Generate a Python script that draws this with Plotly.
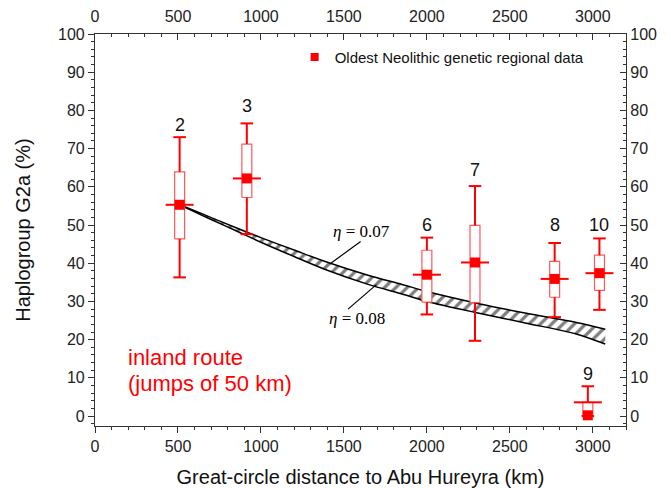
import plotly.graph_objects as go

# ---- data ----
site_labels = ["2", "3", "6", "7", "8", "9", "10"]
distance_km = [510, 915, 2000, 2290, 2770, 2970, 3040]
whisker_low = [36.3, 47.6, 26.6, 19.7, 25.9, 0.0, 27.8]
box_q1 = [46.4, 57.2, 29.8, 29.7, 31.1, 0.0, 32.9]
center_line = [55.3, 62.2, 37.0, 40.2, 35.9, 3.6, 37.4]
box_q3 = [63.9, 71.2, 43.4, 49.9, 40.5, 3.6, 42.1]
whisker_high = [73.0, 76.6, 46.7, 60.2, 45.3, 7.8, 46.5]
mean_value = [55.3, 62.2, 37.0, 40.2, 35.9, 0.2, 37.4]

band_km = [510, 600, 700, 850, 1000, 1200, 1400, 1650, 1850, 2000, 2300, 2600, 2900, 3075]
eta_007 = [55.3, 53.75, 51.95, 49.3, 46.7, 43.45, 40.25, 36.8, 34.45, 32.6, 29.55, 26.9, 24.5, 22.75]
eta_008 = [55.3, 53.45, 51.45, 48.5, 45.5, 41.75, 38.15, 34.4, 31.95, 30.0, 27.05, 24.3, 21.5, 18.85]

x_ticks = [0, 500, 1000, 1500, 2000, 2500, 3000]
y_ticks = [0, 10, 20, 30, 40, 50, 60, 70, 80, 90, 100]

# ---- styling / placement ----
RED = "#ff0000"
FONT = "Liberation Sans, Arial, sans-serif"
label_y = [76.1, 81.2, 50.0, 64.3, 50.0, 11.1, 50.0]
BOX_HALF_WIDTH = 30  # km
X_RANGE = [0, 3200]
Y_RANGE = [-2.6, 100]

fig = go.Figure()

# hatched band between eta = 0.07 and eta = 0.08
fig.add_trace(go.Scatter(x=band_km, y=eta_007, mode="lines",
                         line=dict(color="black", width=1.5, shape="spline", smoothing=0.8),
                         showlegend=False, hoverinfo="skip"))
fig.add_trace(go.Scatter(x=band_km, y=eta_008, mode="lines",
                         line=dict(color="black", width=1.5, shape="spline", smoothing=0.8),
                         fill="tonexty", fillcolor="white",
                         fillpattern=dict(shape="/", fgcolor="black", bgcolor="white",
                                          size=8, solidity=0.4),
                         showlegend=False, hoverinfo="skip"))

# boxes (white-filled rectangles, q1..q3)
for d, q1, q3 in zip(distance_km, box_q1, box_q3):
    xl, xr = d - BOX_HALF_WIDTH, d + BOX_HALF_WIDTH
    fig.add_trace(go.Scatter(x=[xl, xr, xr, xl, xl], y=[q1, q1, q3, q3, q1],
                             mode="lines", fill="toself", fillcolor="white",
                             line=dict(color="#ff5a5a", width=1.2),
                             showlegend=False, hoverinfo="skip"))

# whiskers
wx, wy = [], []
for d, lo, q1, q3, hi in zip(distance_km, whisker_low, box_q1, box_q3, whisker_high):
    wx += [d, d, None, d, d, None]
    wy += [q3, hi, None, lo, q1, None]
fig.add_trace(go.Scatter(x=wx, y=wy, mode="lines", line=dict(color=RED, width=2),
                         showlegend=False, hoverinfo="skip"))
fig.add_trace(go.Scatter(x=distance_km + distance_km, y=whisker_high + whisker_low,
                         mode="markers",
                         marker=dict(symbol="line-ew", size=9,
                                     line=dict(color=RED, width=2)),
                         showlegend=False, hoverinfo="skip"))
# wide centre line
fig.add_trace(go.Scatter(x=distance_km, y=center_line, mode="markers",
                         marker=dict(symbol="line-ew", size=20,
                                     line=dict(color=RED, width=2)),
                         showlegend=False, hoverinfo="skip"))
# mean markers
fig.add_trace(go.Scatter(x=distance_km, y=mean_value, mode="markers",
                         marker=dict(symbol="square", size=10, color=RED,
                                     line=dict(width=0)),
                         showlegend=False, hoverinfo="skip"))
# legend entry
fig.add_trace(go.Scatter(x=[None], y=[None], mode="markers",
                         marker=dict(symbol="square", size=8, color=RED),
                         name="Oldest Neolithic genetic regional data"))
# dummy trace for top/right axes
fig.add_trace(go.Scatter(x=[None], y=[None], xaxis="x2", yaxis="y2",
                         showlegend=False, hoverinfo="skip"))

annotations = []
for lab, d, ly in zip(site_labels, distance_km, label_y):
    annotations.append(dict(x=d, y=ly, text=lab, showarrow=False,
                            font=dict(family=FONT, size=18, color="#111"),
                            xanchor="center", yanchor="middle"))
annotations.append(dict(x=185, y=15.2, text="inland route", showarrow=False,
                        xanchor="left", yanchor="middle",
                        font=dict(family=FONT, size=22, color=RED)))
annotations.append(dict(x=185, y=8.6, text="(jumps of 50 km)", showarrow=False,
                        xanchor="left", yanchor="middle",
                        font=dict(family=FONT, size=22, color=RED)))
annotations.append(dict(x=1606, y=48.2, text="<i>η</i> = 0.07", showarrow=False,
                        xanchor="center", yanchor="middle",
                        font=dict(family="Liberation Serif, Times New Roman, serif",
                                  size=17, color="black")))
annotations.append(dict(x=1576, y=25.6, text="<i>η</i> = 0.08", showarrow=False,
                        xanchor="center", yanchor="middle",
                        font=dict(family="Liberation Serif, Times New Roman, serif",
                                  size=17, color="black")))

shapes = [
    dict(type="line", xref="x", yref="y", x0=1601, y0=45.7, x1=1415, y1=39.8,
         line=dict(color="black", width=1.2)),
    dict(type="line", xref="x", yref="y", x0=1525, y0=28.0, x1=1696, y1=34.4,
         line=dict(color="black", width=1.2)),
]

axis_common = dict(showgrid=False, zeroline=False, showline=True, automargin=False,
                   linecolor="#333", linewidth=1.2, tickcolor="#333", tickwidth=1.2,
                   layer="above traces",
                   tickfont=dict(family=FONT, size=16, color="#222"))

fig.update_layout(
    width=671, height=488,
    margin=dict(l=95, r=45, t=34, b=62, autoexpand=False),
    paper_bgcolor="white", plot_bgcolor="white",
    font=dict(family=FONT, color="#222"),
    showlegend=True,
    legend=dict(x=0.376, y=0.941, xanchor="left", yanchor="middle",
                bgcolor="rgba(0,0,0,0)", font=dict(family=FONT, size=15, color="#111")),
    xaxis=dict(range=X_RANGE, tickvals=x_ticks, ticks="outside", ticklen=6,
               ticklabelstandoff=0,
               minor=dict(dtick=100, ticks="outside", ticklen=3, tickcolor="#333"),
               title=dict(text="Great-circle distance to Abu Hureyra (km)",
                          font=dict(family=FONT, size=20, color="#111"), standoff=16),
               **axis_common),
    yaxis=dict(range=Y_RANGE, tickvals=y_ticks, ticks="outside", ticklen=6,
               minor=dict(dtick=2, tick0=0, ticks="outside", ticklen=3, tickcolor="#333"),
               title=dict(text="Haplogroup G2a (%)",
                          font=dict(family=FONT, size=20, color="#111"), standoff=21),
               **axis_common),
    xaxis2=dict(range=X_RANGE, tickvals=x_ticks, overlaying="x", side="top",
                anchor="y", ticks="inside", ticklen=6, ticklabelstandoff=5,
                minor=dict(dtick=100, ticks="inside", ticklen=3, tickcolor="#333"),
                **axis_common),
    yaxis2=dict(range=Y_RANGE, tickvals=y_ticks, overlaying="y", side="right",
                anchor="x", ticks="inside", ticklen=6,
                minor=dict(dtick=2, tick0=0, ticks="inside", ticklen=3, tickcolor="#333"),
                **axis_common),
    annotations=annotations,
    shapes=shapes,
)

fig.write_html("out.html", config={"displayModeBar": False},
               post_script="document.body.style.margin='0';document.body.style.overflow='hidden';")
